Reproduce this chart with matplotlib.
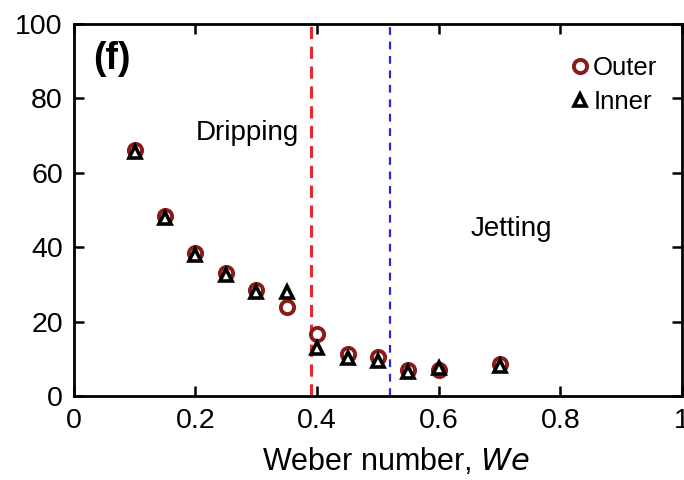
import matplotlib
matplotlib.use("Agg")
import matplotlib.pyplot as plt

plt.rcParams['font.family'] = ['Liberation Sans', 'DejaVu Sans']

we = [0.1, 0.15, 0.2, 0.25, 0.3, 0.35, 0.4, 0.45, 0.5, 0.55, 0.6, 0.7]
outer = [66, 48.5, 38.5, 33, 28.5, 23.8, 16.6, 11.2, 10.6, 7, 7, 8.6]
inner = [65.5, 47.8, 37.8, 32.5, 28, 28, 12.8, 10.2, 9.5, 6.5, 7.6, 8]

drip_line = 0.39
jet_line = 0.52

fig = plt.figure(figsize=(6.84, 4.8), dpi=100)
ax = fig.add_axes([0.108, 0.175, 0.889, 0.775])

ax.plot(we, outer, 'o', mfc='white', mec='#8b1a1a', mew=2.8, ms=9.5, label='Outer', zorder=3)
ax.plot(we, inner, '^', mfc='white', mec='black', mew=2.6, ms=8, label='Inner', zorder=4)

ax.axvline(drip_line, color='#e8282e', ls=(0, (4, 2.5)), lw=2.2, zorder=2)
ax.axvline(jet_line, color='#2828d8', ls=(0, (3.5, 3)), lw=1.6, zorder=2)

ax.text(0.063, 90.5, '(f)', fontsize=27, fontweight='bold', va='center', ha='center')
ax.text(0.2, 68.8, 'Dripping', fontsize=20, va='baseline')
ax.text(0.652, 43, 'Jetting', fontsize=20, va='baseline')

ax.set_xlim(0, 1)
ax.set_ylim(0, 100)
ax.set_xticks([0, 0.2, 0.4, 0.6, 0.8, 1])
ax.set_xticklabels(['0', '0.2', '0.4', '0.6', '0.8', '1'])
ax.set_yticks([0, 20, 40, 60, 80, 100])
ax.tick_params(direction='in', top=True, right=True, length=7, width=1.8,
               labelsize=20.5)
ax.tick_params(axis='x', pad=9)
ax.tick_params(axis='y', pad=8)
for s in ax.spines.values():
    s.set_linewidth(2)

ax.set_xlabel('Weber number, $\\mathit{We}$', fontsize=22)
ax.xaxis.set_label_coords(0.53, -0.135)

ax.legend(loc='upper right', frameon=False, fontsize=18.5, handletextpad=0.05,
          handlelength=0.9, borderaxespad=0.2, labelspacing=0.4,
          bbox_to_anchor=(0.985, 0.955))

fig.savefig('out.png', dpi=100)
